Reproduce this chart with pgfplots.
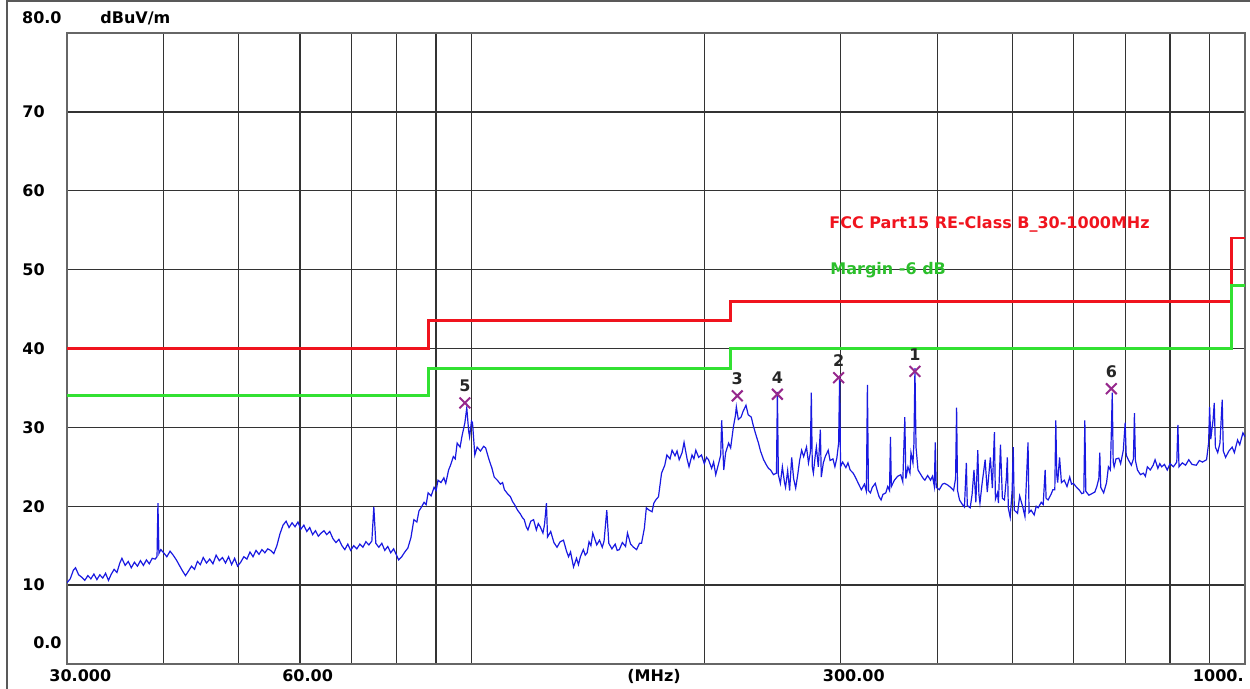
\documentclass[border=0pt]{standalone}
\usepackage{fontspec}
\setmainfont{DejaVu Sans}
\usepackage{pgfplots}
\pgfplotsset{compat=1.18}
\definecolor{limred}{RGB}{240,20,30}
\definecolor{limgreen}{RGB}{50,225,50}
\definecolor{tracecol}{RGB}{25,25,225}
\definecolor{mk}{RGB}{150,40,140}
\newcommand{\lbl}{\bfseries\fontsize{8}{9}\selectfont}
\begin{document}
\begin{tikzpicture}
\path[use as bounding box] (0,0) rectangle (625pt,344.5pt);
% window frame
\draw[black!65, line width=1pt] (3.5pt,0) -- (3.5pt,344pt) -- (625pt,344pt);
\begin{axis}[
    at={(33.5pt,12.5pt)}, anchor=south west,
    scale only axis, width=589pt, height=315.5pt,
    xmode=log, xmin=30, xmax=1000, ymin=0, ymax=80,
    xtick={30,40,50,60,70,80,90,100,200,300,400,500,600,700,800,900,1000},
    xticklabels={30.000,,,60.00,,,,,,300.00,,,,,,,},
    ytick={0,10,20,30,40,50,60,70,80},
    yticklabels={,10,20,30,40,50,60,70,},
    major tick length=0pt, minor tick num=0,
    grid=major,
    major grid style={black!80, line width=0.65pt},
    axis line style={black!60, line width=1pt},
    xticklabel style={font=\lbl, anchor=north west, inner sep=0pt, xshift=-9pt, yshift=-2.5pt},
    yticklabel style={font=\lbl, anchor=west, inner sep=0pt, xshift=-22.5pt},
]
% limit line and margin
\addplot[limred, line width=1.4pt] coordinates {(30,40) (88,40) (88,43.5) (216,43.5) (216,46) (960,46) (960,54) (1000,54)};
\addplot[limgreen, line width=1.4pt] coordinates {(30,34) (88,34) (88,37.5) (216,37.5) (216,40) (960,40) (960,48) (1000,48)};
% measured trace
\addplot[tracecol, line width=0.6pt] coordinates {
(30.00,10.3) (30.29,10.8) (30.58,11.9) (30.77,12.2) (31.06,11.3) (31.35,11.0) (31.63,10.6) (31.92,11.2)
(32.21,10.8) (32.50,11.4) (32.79,10.7) (33.08,11.3) (33.37,10.9) (33.65,11.5) (33.94,10.6) (34.23,11.4)
(34.52,12.0) (34.81,11.6) (35.11,12.8) (35.33,13.4) (35.67,12.5) (36.00,13.0) (36.33,12.2) (36.67,12.9)
(37.00,12.4) (37.33,13.1) (37.67,12.5) (38.00,13.2) (38.33,12.7) (38.67,13.4) (39.00,13.3) (39.22,13.6)
(39.33,20.4) (39.44,14.0) (39.67,14.5) (40.00,14.1) (40.38,13.6) (40.77,14.3) (41.15,13.8) (41.54,13.2)
(41.92,12.5) (42.31,11.8) (42.69,11.2) (43.08,11.8) (43.46,12.4) (43.85,12.0) (44.23,13.0) (44.62,12.6)
(45.00,13.5) (45.44,12.8) (45.88,13.3) (46.32,12.7) (46.76,13.8) (47.21,13.1) (47.65,13.5) (48.09,12.8)
(48.53,13.6) (48.97,12.6) (49.41,13.4) (49.85,12.4) (50.31,12.9) (50.78,13.6) (51.25,13.3) (51.72,14.2)
(52.19,13.6) (52.66,14.4) (53.13,13.9) (53.59,14.5) (54.06,14.1) (54.53,14.6) (55.00,14.4) (55.52,14.0)
(56.03,15.0) (56.55,16.5) (57.07,17.6) (57.59,18.1) (58.10,17.3) (58.62,17.9) (59.14,17.4) (59.66,18.0)
(60.18,17.1) (60.71,17.6) (61.25,16.8) (61.79,17.3) (62.32,16.4) (62.86,16.9) (63.39,16.2) (63.93,16.6)
(64.46,16.9) (65.00,16.4) (65.60,16.8) (66.20,15.9) (66.80,15.4) (67.40,15.8) (68.00,15.0) (68.60,14.5)
(69.20,15.2) (69.80,14.4) (70.43,15.0) (71.09,14.6) (71.74,15.2) (72.39,14.8) (73.04,15.5) (73.70,15.1)
(74.35,15.6) (74.78,19.9) (75.23,15.3) (75.91,14.8) (76.59,15.3) (77.27,14.4) (77.95,14.9) (78.64,14.1)
(79.32,14.6) (80.00,13.8) (80.50,13.2) (81.25,13.6) (82.00,14.2) (82.75,14.7) (83.50,16.0) (84.25,18.3)
(85.00,18.0) (85.53,19.4) (86.05,19.8) (86.84,20.5) (87.37,20.2) (87.89,21.7) (88.68,21.3) (89.47,22.4)
(90.00,22.0) (90.53,23.3) (91.32,23.0) (92.11,23.6) (92.63,22.9) (93.42,24.6) (93.95,25.2) (94.74,26.3)
(95.28,26.0) (95.83,28.0) (96.67,27.5) (97.22,28.9) (98.06,30.6) (98.61,32.5) (99.17,29.5) (99.44,28.8)
(100.0,30.8) (100.3,30.6) (101.0,26.5) (101.7,27.5) (102.7,27.0) (103.7,27.6) (104.3,27.4) (105.3,26.0)
(106.3,24.8) (107.0,23.7) (108.0,23.3) (109.0,22.8) (109.7,23.0) (110.3,22.1) (111.3,21.6) (112.3,21.2)
(113.0,20.6) (113.7,20.2) (114.7,19.5) (115.7,19.0) (116.3,18.6) (117.0,18.3) (117.7,17.4) (118.3,17.0)
(119.3,18.1) (120.3,18.3) (121.3,17.0) (122.0,17.8) (122.7,17.4) (123.7,16.6) (124.3,17.7) (125.0,20.4)
(125.4,16.1) (126.6,16.8) (127.8,15.4) (129.0,14.8) (130.2,15.5) (131.5,15.7) (132.7,14.3) (133.5,13.6)
(134.3,14.2) (135.5,12.3) (136.7,13.4) (137.5,12.6) (138.3,13.6) (139.5,14.5) (140.3,13.8) (141.1,14.1)
(141.9,15.5) (142.7,15.0) (143.5,16.6) (144.4,15.8) (145.2,15.1) (146.4,15.7) (147.6,14.8) (148.4,15.6)
(149.6,19.5) (150.5,15.3) (151.9,14.6) (153.4,15.2) (154.3,14.4) (155.3,14.5) (156.7,15.4) (158.2,14.9)
(159.1,16.6) (160.6,15.2) (162.0,14.8) (163.5,14.5) (164.9,15.3) (165.9,15.3) (167.3,17.2) (168.3,19.8)
(169.7,19.5) (171.2,19.3) (172.1,20.4) (173.1,20.8) (174.5,21.2) (176.1,24.2) (177.8,25.2) (178.9,26.5)
(180.6,26.0) (181.7,27.1) (183.3,26.4) (184.4,27.0) (185.6,25.9) (187.2,26.8) (188.3,28.1) (190.0,26.0)
(191.1,25.0) (192.8,26.5) (193.9,26.0) (195.0,27.1) (196.7,26.2) (198.3,26.5) (200.0,25.4) (201.3,26.2)
(202.5,25.9) (204.4,24.8) (205.6,25.6) (206.9,24.0) (208.8,25.5) (210.0,26.5) (210.6,30.9) (211.9,24.6)
(213.1,26.8) (215.0,28.0) (216.3,27.4) (218.1,30.1) (219.4,31.5) (220.0,32.6) (221.3,31.0) (223.1,31.3)
(224.4,32.0) (226.4,32.8) (227.9,31.6) (230.0,31.3) (231.4,30.2) (233.6,28.8) (235.0,28.0) (236.4,27.0)
(238.6,25.9) (240.7,25.2) (242.1,24.8) (243.6,24.6) (245.7,24.0) (247.9,24.2) (248.6,34.5) (249.3,24.0)
(250.8,22.9) (252.3,25.0) (253.9,23.0) (254.7,22.4) (256.3,24.5) (257.8,22.0) (259.4,26.2) (260.9,23.5)
(262.5,22.3) (264.1,24.0) (265.6,25.8) (267.2,27.1) (268.8,26.3) (271.1,27.5) (272.7,25.5) (274.2,26.8)
(275.0,34.4) (275.8,25.0) (276.7,24.2) (278.3,26.5) (279.2,27.5) (280.8,25.0) (282.5,29.7) (283.3,23.7)
(285.0,25.5) (286.7,26.3) (289.2,27.1) (290.8,25.8) (293.3,26.0) (295.0,25.0) (296.7,26.1) (298.3,28.0)
(299.2,36.4) (300.0,25.0) (301.9,25.6) (304.8,24.9) (306.7,25.5) (308.7,24.6) (311.5,24.2) (313.5,23.7)
(316.3,22.9) (319.2,22.1) (322.1,22.8) (324.0,21.9) (325.0,35.4) (326.0,22.0) (327.9,21.7) (329.8,22.4)
(332.7,22.9) (334.6,22.0) (336.5,21.2) (338.5,20.8) (340.4,21.5) (343.3,21.7) (345.2,22.5) (347.1,22.0)
(348.1,28.8) (349.0,22.5) (352.2,23.3) (355.6,23.8) (358.9,24.0) (361.1,23.1) (363.3,31.3) (364.4,23.5)
(366.7,25.0) (368.9,24.2) (370.0,26.8) (372.2,25.5) (373.3,28.0) (374.4,37.5) (375.6,27.5) (377.8,24.6)
(381.1,24.0) (383.3,23.6) (385.6,23.3) (388.9,23.9) (392.2,23.3) (394.4,23.8) (396.7,22.5) (397.8,28.1)
(398.9,22.4) (402.5,22.1) (406.3,22.8) (408.8,22.9) (412.5,22.7) (416.3,22.4) (420.0,22.0) (422.5,23.5)
(423.8,32.5) (425.0,22.0) (427.5,20.8) (431.3,20.2) (433.8,19.9) (436.3,25.5) (437.5,20.1) (441.3,19.8)
(443.8,21.5) (446.3,24.6) (448.8,20.5) (451.4,27.1) (452.9,21.5) (454.3,20.4) (457.1,22.8) (461.4,25.9)
(464.3,21.8) (468.6,26.2) (471.4,22.3) (474.3,29.4) (475.7,20.9) (478.6,21.7) (480.0,20.4) (482.9,27.8)
(485.7,21.0) (488.6,20.8) (491.4,23.5) (492.9,26.2) (494.3,19.8) (497.1,18.6) (500.0,22.0) (501.6,27.5)
(503.2,19.5) (508.1,19.1) (511.3,21.3) (516.1,19.9) (519.4,18.7) (524.2,28.1) (525.8,19.2) (529.0,19.5)
(533.9,18.9) (537.1,20.0) (540.3,19.8) (545.2,20.5) (548.4,20.2) (551.6,24.6) (553.2,21.0) (556.5,20.8)
(561.3,21.5) (564.5,22.1) (567.7,22.1) (569.4,30.9) (571.0,24.0) (572.6,23.0) (575.8,26.2) (579.0,23.0)
(583.9,23.3) (588.7,22.5) (593.5,23.7) (596.8,22.8) (600.0,22.9) (605.7,22.4) (611.3,22.0) (615.1,21.6)
(618.9,21.7) (620.8,30.9) (622.6,21.9) (628.3,21.4) (634.0,21.6) (639.6,21.8) (643.4,22.5) (647.2,23.5)
(649.1,26.8) (650.9,22.4) (656.6,21.7) (662.3,23.0) (666.0,25.0) (669.8,24.6) (671.7,29.3) (673.6,34.4)
(675.5,25.6) (677.4,25.0) (681.1,26.0) (686.8,26.1) (690.6,25.4) (696.2,27.1) (700.0,30.6) (702.2,26.5)
(706.5,25.9) (713.0,25.2) (717.4,26.0) (719.6,31.8) (721.7,25.8) (726.1,24.6) (732.6,24.0) (739.1,24.2)
(743.5,23.8) (747.8,25.0) (754.3,24.6) (760.9,25.2) (765.2,25.9) (771.7,24.8) (776.1,25.4) (780.4,25.0)
(787.0,25.3) (793.5,24.6) (800.0,25.4) (808.1,25.0) (816.2,25.6) (818.9,30.3) (821.6,25.0) (829.7,25.5)
(837.8,25.2) (845.9,25.9) (854.1,25.3) (864.9,25.2) (873.0,25.8) (881.1,25.6) (891.9,25.9) (897.3,28.0)
(900.0,32.6) (903.1,28.5) (909.4,31.0) (912.5,33.1) (915.6,27.5) (921.9,26.8) (928.1,28.0) (934.4,33.5)
(937.5,27.0) (943.8,26.2) (953.1,27.0) (962.5,27.5) (968.8,26.8) (978.1,28.4) (984.4,27.8) (993.8,29.3)
(1000,28.8)
};
% peak markers
\addplot[only marks, mark=x, mark size=3.8pt, mk, line width=1pt,
    nodes near coords, point meta=explicit symbolic,
    nodes near coords style={font=\lbl, text=black!85, anchor=south, inner sep=0pt, yshift=5pt}]
    table[meta=lab] {
f L lab
374.4 37.1 1
298.3 36.3 2
220.6 34.0 3
248.6 34.2 4
98.06 33.1 5
671.7 34.9 6
};
\end{axis}
% labels placed outside the axis box
\node[font=\lbl, anchor=east, inner sep=0pt] at (31pt,335.5pt) {80.0};
\node[font=\lbl, anchor=east, inner sep=0pt] at (31pt,23pt) {0.0};
\node[font=\lbl, anchor=west, inner sep=0pt] at (50pt,335.5pt) {dBuV/m};
\node[font=\lbl, anchor=north, inner sep=0pt] at (327pt,10pt) {(MHz)};
\node[font=\lbl, anchor=north east, inner sep=0pt] at (622pt,10pt) {1000.};
\node[font=\lbl, text=limred, anchor=west, inner sep=0pt] at (414.5pt,232.5pt) {FCC Part15 RE-Class B\_30-1000MHz};
\node[font=\lbl, text=limgreen!85!black, anchor=west, inner sep=0pt] at (415pt,209.5pt) {Margin -6 dB};
\end{tikzpicture}
\end{document}
